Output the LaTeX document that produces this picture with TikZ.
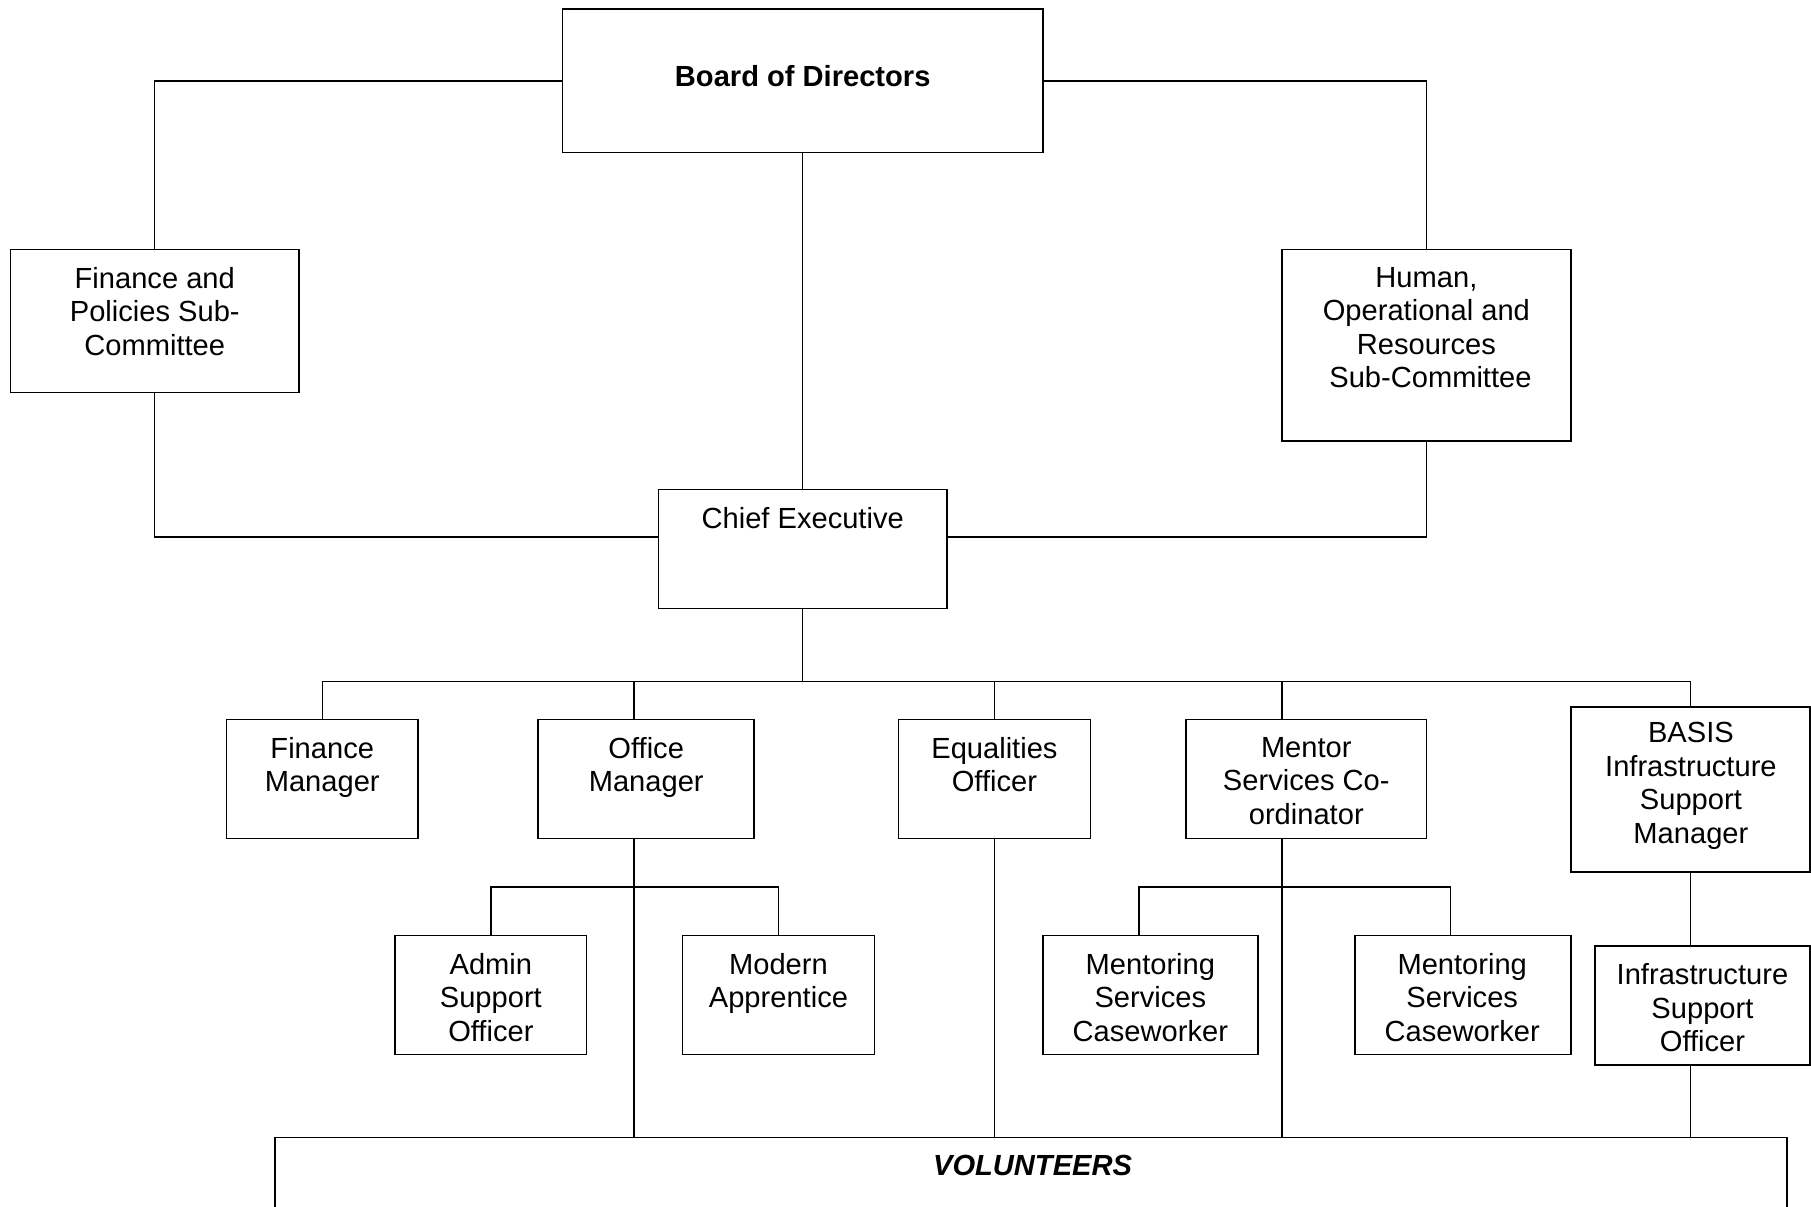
\documentclass[tikz,border=0pt]{standalone}
\usepackage{fontspec}
\setmainfont{Liberation Sans}
\usetikzlibrary{fit,calc}
\begin{document}
\begin{tikzpicture}[x=0.5pt,y=-0.5pt,
  box/.style={draw, line width=0.65pt, inner sep=0pt},
  txt/.style={align=center, inner sep=0pt, anchor=north, font=\fontsize{12.6}{14.5}\selectfont},
  txtb/.style={txt, font=\fontsize{12.6}{14.5}\selectfont\bfseries},
  txtbi/.style={txt, font=\fontsize{12.6}{14.5}\selectfont\bfseries\itshape},
  con/.style={line width=0.6pt}]
\useasboundingbox (0,0) rectangle (1568,1045);
\clip (0,0) rectangle (1568,1045);
% boxes
\node[box, fit={(487,8) (903,132)}] (board) {};
\node[box, fit={(9,216) (259,340)}] (fin) {};
\node[box, fit={(1110,216) (1360,382)}] (hum) {};
\node[box, fit={(570,424) (820,527)}] (ce) {};
\node[box, fit={(196,623) (362,726)}] (fm) {};
\node[box, fit={(466,623) (653,726)}] (om) {};
\node[box, fit={(778,623) (944,726)}] (eq) {};
\node[box, fit={(1027,623) (1235,726)}] (ms) {};
\node[box, fit={(1360,612) (1567,755)}] (basis) {};
\node[box, fit={(342,810) (508,913)}] (adm) {};
\node[box, fit={(591,810) (757,913)}] (mod) {};
\node[box, fit={(903,810) (1089,913)}] (msc1) {};
\node[box, fit={(1173,810) (1360,913)}] (msc2) {};
\node[box, fit={(1381,819) (1567,922)}] (infra) {};
\node[box, fit={(238,985) (1547,1100)}] (vol) {};
% texts
\node[txtb] (board-t) at (695,56) {Board of Directors};
\node[txt] (fin-t) at (134,231) {Finance and\\Policies Sub-\\Committee};
\node[txt] (hum-t) at (1235,231) {Human,\\Operational and\\Resources\\\hspace*{3.5pt}Sub-Committee};
\node[txt] (ce-t) at (695,439) {Chief Executive};
\node[txt] (fm-t) at (279,638) {Finance\\Manager};
\node[txt] (om-t) at (559.5,638) {Office\\Manager};
\node[txt] (eq-t) at (861,638) {Equalities\\Officer};
\node[txt] (ms-t) at (1131,638) {Mentor\\Services Co-\\ordinator};
\node[txt] (basis-t) at (1464,625) {BASIS\\Infrastructure\\Support\\Manager};
\node[txt] (adm-t) at (425,825) {Admin\\Support\\Officer};
\node[txt] (mod-t) at (674,825) {Modern\\Apprentice};
\node[txt] (msc1-t) at (996,825) {Mentoring\\Services\\Caseworker};
\node[txt] (msc2-t) at (1266,825) {Mentoring\\Services\\Caseworker};
\node[txt] (infra-t) at (1474,834) {Infrastructure\\Support\\Officer};
\node[txtbi] (vol-t) at (894,1000) {VOLUNTEERS};
% connectors
\draw[con] (board.west) -| (fin.north);
\draw[con] (board.east) -| (hum.north);
\draw[con] (board.south) -- (ce.north);
\draw[con] (fin.south) |- ([yshift=5.25pt]ce.west);
\draw[con] (hum.south) |- ([yshift=5.25pt]ce.east);
\coordinate (bus) at (695,590);
\draw[con] (ce.south) -- (bus);
\draw[con] (bus) -| (fm.north);
\draw[con] (bus) -| ([xshift=-5.25pt]om.north);
\draw[con] (bus) -| (eq.north);
\draw[con] (bus) -| ([xshift=-10.5pt]ms.north);
\draw[con] (bus) -| (basis.north);
\draw[con] ([xshift=-5.25pt]om.south) -- ([xshift=-5.25pt]om.south |- vol.north);
\coordinate (ombus) at (549,768);
\draw[con] (ombus) -| (adm.north);
\draw[con] (ombus) -| (mod.north);
\draw[con] (eq.south) -- (eq.south |- vol.north);
\draw[con] ([xshift=-10.5pt]ms.south) -- ([xshift=-10.5pt]ms.south |- vol.north);
\coordinate (msbus) at (1110,768);
\draw[con] (msbus) -| ([xshift=-5pt]msc1.north);
\draw[con] (msbus) -| ([xshift=-5.25pt]msc2.north);
\draw[con] (basis.south) -- (basis.south |- infra.north);
\draw[con] (basis.south |- infra.south) -- (basis.south |- vol.north);
\end{tikzpicture}
\end{document}
